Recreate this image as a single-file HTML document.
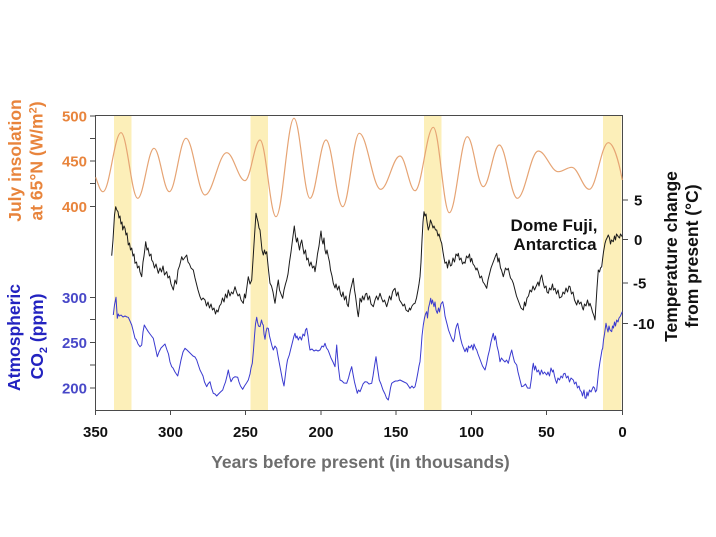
<!DOCTYPE html>
<html>
<head>
<meta charset="utf-8">
<style>
  html, body { margin: 0; padding: 0; background: #ffffff; }
  svg { display: block; }
  text { font-family: "Liberation Sans", Arial, sans-serif; font-weight: bold; }
</style>
</head>
<body>
<svg width="716" height="537" viewBox="0 0 716 537" xmlns="http://www.w3.org/2000/svg">
  <rect x="0" y="0" width="716" height="537" fill="#ffffff"/>

  <!-- yellow interglacial bands -->
  <g fill="#fcefb9">
    <rect x="114" y="115.5" width="17.5" height="295"/>
    <rect x="250.5" y="115.5" width="17.5" height="295"/>
    <rect x="424" y="115.5" width="17.5" height="295"/>
    <rect x="603" y="115.5" width="18.5" height="295"/>
  </g>

  <!-- frame -->
  <g stroke="#4a4a4a" stroke-width="1" fill="none">
    <rect x="95.5" y="115.5" width="527" height="295"/>
    <!-- left ticks -->
    <line x1="90" y1="116" x2="95.5" y2="116"/>
    <line x1="90" y1="138.5" x2="95.5" y2="138.5"/>
    <line x1="90" y1="161" x2="95.5" y2="161"/>
    <line x1="90" y1="183.5" x2="95.5" y2="183.5"/>
    <line x1="90" y1="206.5" x2="95.5" y2="206.5"/>
    <line x1="90" y1="297.5" x2="95.5" y2="297.5"/>
    <line x1="90" y1="319.5" x2="95.5" y2="319.5"/>
    <line x1="90" y1="342.5" x2="95.5" y2="342.5"/>
    <line x1="90" y1="365" x2="95.5" y2="365"/>
    <line x1="90" y1="388" x2="95.5" y2="388"/>
    <!-- right ticks -->
    <line x1="622.5" y1="200" x2="628" y2="200"/>
    <line x1="622.5" y1="239.5" x2="628" y2="239.5"/>
    <line x1="622.5" y1="283" x2="628" y2="283"/>
    <line x1="622.5" y1="323.5" x2="628" y2="323.5"/>
    <!-- bottom ticks -->
    <line x1="95.5" y1="410.5" x2="95.5" y2="415"/>
    <line x1="170.5" y1="410.5" x2="170.5" y2="415"/>
    <line x1="245.5" y1="410.5" x2="245.5" y2="415"/>
    <line x1="321" y1="410.5" x2="321" y2="415"/>
    <line x1="396" y1="410.5" x2="396" y2="415"/>
    <line x1="471.5" y1="410.5" x2="471.5" y2="415"/>
    <line x1="546.5" y1="410.5" x2="546.5" y2="415"/>
    <line x1="622.5" y1="410.5" x2="622.5" y2="415"/>
  </g>

  <!-- insolation curve -->
  <path fill="none" stroke="#e6a474" stroke-width="1.2" d="M95.7,177.3 C98.5,185 100.3,191.7 103,191.7
    C109.55,191.7 114.45,132.7 121,132.7
    C127.08,132.7 131.62,198.3 137.7,198.3
    C143.63,198.3 148.07,148.3 154,148.3
    C159.57,148.3 163.73,191.7 169.3,191.7
    C175.38,191.7 179.92,138.3 186,138.3
    C192.92,138.3 198.08,195 205,195
    C212.9,195 218.8,152.7 226.7,152.7
    C233.36,152.7 238.34,180.7 245,180.7
    C250.46,180.7 254.54,140 260,140
    C265.82,140 270.18,216.7 276,216.7
    C282.55,216.7 287.45,118.3 294,118.3
    C299.82,118.3 304.18,198.3 310,198.3
    C315.82,198.3 320.18,140 326,140
    C332.08,140 336.62,206.7 342.7,206.7
    C348.74,206.7 353.26,133.3 359.3,133.3
    C367.09,133.3 372.91,189.3 380.7,189.3
    C387.73,189.3 392.97,156 400,156
    C405.46,156 409.54,190.7 415,190.7
    C421.66,190.7 426.64,127.3 433.3,127.3
    C439.12,127.3 443.48,212.7 449.3,212.7
    C455.85,212.7 460.75,136.7 467.3,136.7
    C473.12,136.7 477.48,186.7 483.3,186.7
    C489.12,186.7 493.48,145 499.3,145
    C505.85,145 510.75,198.3 517.3,198.3
    C524.94,198.3 530.66,151 538.3,151
    C545.58,151 551.02,171.7 558.3,171.7
    C563.18,171.7 566.82,167.3 571.7,167.3
    C578.1,167.3 582.9,189.3 589.3,189.3
    C596.22,189.3 601.38,142.7 608.3,142.7
    C613.3,142.7 618.5,160 622.3,180"/>

  <!-- temperature curve -->
  <polyline fill="none" stroke="#1a1a1a" stroke-width="1" stroke-linejoin="round" points="111.7,255.7 113,240 114.5,215 115.7,206.7 116.8,210 118,211.7 119,218 120,216 121,224 122,222 122.7,230 124,226 125,228.3 126,235 127,233 128.3,245 129.5,243 130.5,250 131.7,248 133,256 134,254 135,263.3 136.5,262 137.5,268 139,266 140,272 141.7,276.7 143,262 144,256 145,248 145.7,241.7 147,250 148,248 149.5,256 151,254 151.7,260 153,262 154.5,268 156,264 158.3,273.3 160,268 161.5,272 163,266 164.5,275 166.7,271.7 168,278 169.5,276 171,284 173.3,290 175,280 176.5,284 178,270 179.5,266 180.5,262 181.7,256.7 183,260 184.5,258 186.7,255 188,262 189.5,264 191,268 193.3,270 195,278 196.5,284 198,290 200,296.7 201.5,300 203,298 205,300 206.5,306 208,302 209.5,308 211,304 212.5,310 214,308 215.5,314 216.7,310 218,312 219.5,306 221,304 222.5,298 224,302 225.5,294 227,298 228.3,290 230,296 231.5,292 233,294 235,286.7 236.5,292 238,296 239.5,294 241,300 243.3,303.3 244.5,294 245.5,298 246.5,290 248.3,276.7 250,284 251.7,280 253,260 254.5,236 256,213.3 257,218 258,222 259,228 260,230 261,240 262,250 263.3,255 264.5,250 265.5,254 266.7,251.7 267.5,260 268.5,270 270,283.3 271.5,286 273,292 274,298 275,303.3 276,296 277,288 278.3,280 279.5,290 281,294 282.7,298.3 284,290 285.5,284 286.7,280 288,274 289.5,262 291,252 292.5,240 294.3,226 295.5,236 296.5,242 297.5,238 298.3,243.3 299.5,250 300.5,244 301.7,240 303,248 304,254 305.5,250 306.7,260 308,258 309.5,266 311,262 312.5,268 314,266 315,271.7 316.5,262 317.5,254 319,246 320,238 321,231 322,240 323,244 324,238 325,250 326,254 327,250 328.3,256.7 329.5,262 330.5,270 332,276 333.3,283.3 335,288 336,284 337.5,290 339,286 340.5,294 341.7,296.7 343,292 344.5,300 346,296 347,304 348.3,306.7 349.5,296 350.5,290 351.5,286 353.3,278.3 354.5,290 355.5,296 356.5,304 357.5,312 358.3,316.7 359.3,308 360,298.3 361.5,302 362.5,296 364,300 365.5,294 366.7,293.3 368,300 369.5,296 371,304 373.3,306.7 375,300 376.5,296 378,300 380,293.3 381.5,298 383,302 384.5,300 386.7,306.7 388,302 389.5,296 391,300 392.5,292 393.5,290 395,288.3 396.5,296 398,292 399.5,300 401.7,303.3 403,306 404.5,304 406,310 408.3,311.7 409.5,308 410.5,310 412,306 413.5,304 415,303.3 416.5,298 418,290 419,284 420,276.7 421,262 422,240 423,222 424,211.7 425,216 426,214 427,222 428.3,230 429.5,226 430.5,220 431.7,223.3 433,228 434,226 435.5,230 436.7,230 438,236 439,234 440.5,240 441.7,243.3 443,252 444,258 445,263.3 446.5,262 447.5,268 449,260 450.5,266 451.7,265 453,258 454.5,262 456,254 457.5,256 458.3,253.3 459.5,260 461,258 462.5,264 464,262 465,263.3 466.5,256 468,258 469.5,254 470.5,262 471.7,258.3 473,264 474.5,266 476,270 477,268 478.3,271.7 480,278 481.5,276 483,282 484.5,284 486.7,288.3 488,280 489.5,274 491,268 492.5,264 494,260 495.5,256 496.7,253.3 498,262 499,258 500.5,268 501.5,270 503.3,276.7 504.5,272 505.5,268 507,270 508.3,268.3 509.5,274 510.5,278 512,280 513.3,283.3 515,290 516.5,296 518,300 519.5,304 521,308 523.3,310 524.5,302 525.5,306 527,298 528.5,296 530,290 531.5,292 533,286 534.5,290 536.7,285 538,282 539,286 540.5,278 541.7,275 543,282 544.5,288 546,286 547,292 548.3,293.3 549.5,288 551,290 552.5,284 553.5,290 555,288.3 556.5,294 558,290 559.5,298 561.7,296.7 563,292 564.5,294 566,288 567.5,292 569,286 570,286.7 571.5,294 573,292 574.5,300 576.7,305 578,300 579.5,304 581,302 582.5,308 583.3,310 584.5,304 586,306 587.5,300 589,306 590,303.3 591.5,308 592.5,312 594,316 595,320 596,304 597,288 598.3,270 599.5,272 600.5,268 601.7,266.7 602.5,260 603.5,252 605,243.3 606,240 607,238 608.3,235 609.5,238 610.5,244 611.5,240 613.3,241.7 614.5,236 615.5,240 616.5,234 618.3,236.7 619.5,238 620.5,234 622.3,236.7"/>

  <!-- CO2 curve -->
  <polyline fill="none" stroke="#3a3ad0" stroke-width="1" stroke-linejoin="round" points="113.3,315 114.5,305 116,297.3 117.3,318.3 118.3,314 119.3,316 121,315 123,317 125,316 127,317 128.3,317.3 130,321 131.7,325 133,330 135,338.3 136.5,340 138,344 140,346.7 141.7,345 143,332 144.3,325 146,328 148.3,331.7 150,334 151.5,336 153.3,338.3 155,346 157.3,356.7 159,352 161,348 163,346 165,344 167,350 168.5,354 170,362 171.7,366.7 173,368 175,372 177.7,376 179,370 181,360 183,352 185,348.3 187,350 189,352 191,354 193,356 195,357 196.7,360 198,364 200,370 201.7,373.3 203,376 204.5,382 206.7,386.7 208,384 210,381.7 211.5,388 213.3,393.3 215,394 216.7,396 218.5,394 220.5,392 222.7,390 224,386 225.5,382 227,376 228.3,370 229.5,376 231,381.7 233,378 235,376.7 237.7,377.3 239,382 240.5,386 242.7,389.3 244.5,386 246.5,383 248.3,380 250,374 251,368 252.3,363.3 253.5,350 254.5,336 255.5,324 256.7,317.3 257.5,322 258.5,326 260,326.7 261.5,320 262.5,324 263.3,325 264,334 265,339.3 266,332 267,328 268.3,328.3 269.5,336 270.5,340 272,346 273.3,350 275,346 276.7,348.3 278,356 279.5,364 281,372 282.5,380 284,386 285.5,374 286.5,366 287.5,360 289.3,355 290.5,350 291.5,346 293,340 294,336 295,333.3 296,338 297,336 298.3,340 299.2,338 300,336.7 301.5,340 303,334 304.5,336 305.5,330 306.7,328.3 308,336 309,344 310,350 312,349 314,351 316,350 318,351 320,350 322,346 323.5,347 325,343.3 326.5,348 328,350 329.3,353.3 331,358 333,362 335,366.7 335.8,356 336.7,345 337.5,356 338.5,368 340,380 342,381 344,383 346.7,383.3 348.5,378 350,372 351.7,366.7 353,374 354.5,382 356,388 357.3,393.3 358.5,390 360,391.7 361.5,388 363,384 365,381.7 367,382 369,384 371.7,383.3 373,376 374.5,366 376,356.7 377.5,368 379.3,380 381,384 383,390 385,394 386.5,398 388.3,400 389.5,394 390.5,388 391.7,383.3 393.5,382 395.5,381 397.5,381 400,380 402,381 404,382 406.7,383.3 408.5,386 410,388.3 412,386 413.5,388 415,386.7 416.5,380 418,372 419,366 420,361.7 421,350 422,336 423.3,325 424.5,318 425.5,314 426.7,311.7 427.5,318 428.5,308 429.5,304 430.7,298.3 431.5,304 432.5,300 434,306.7 435,302 436,310 437.3,313.3 438.5,308 439.5,312 441,304 442.7,301.7 444,308 445,316 446,320 447.3,325 448.5,330 450,334 451.5,338 453.3,341.7 454.5,338 455.5,330 456.5,326 457.7,323.3 459,330 460.5,338 462,344 463.5,348 465,351.7 466.5,348 467.5,352 468.5,346 470,348 471.7,345 473,350 474,344 475.5,348 476.7,350 478,354 479.5,358 481,362 482.5,366 485,370 486.5,364 488,356 489.5,350 491,342 492.5,336 493.3,333.3 494.5,340 495.5,336 497,346 498.5,352 500,361.7 501.5,358 503,360 505,362 506.5,360 508.3,363.3 509.5,358 510.5,354 511.7,350 513,356 514.5,362 516.7,365 518,372 519.5,378 521,384 521.7,386.7 523.5,386 525.5,384 527.5,388 530,388.3 531.5,378 532.5,368 533.3,363.3 534.5,370 535.5,366 537,372 538.5,370 540,375 541.5,370 543,374 544.5,372 546.7,375 548,372 549.5,376 551,368 552.5,372 553.3,370 554.5,376 555.5,380 556.7,383.3 558,378 559.5,380 561,376 562.5,378 563.5,374 565,373.3 566.5,378 568,376 569.5,382 571,378 573.3,380 574.5,384 576,382 577.5,388 579,386 580,390 581.5,392 582.5,396 584,390 585,398 586,398.3 587,392 588,396 589.5,390 591,392 593.3,386.7 594.5,388 595.5,392 596.7,390 597.5,382 598.5,372 600,361.7 601,356 602,350 602.7,348.3 603.5,340 604.5,334 606,323.3 607,328 608,332 609,326 610,330 611.7,331.7 612.5,326 613.5,328 614.5,322 615.5,326 616.7,320 618,322 619,318 620.5,316 622.3,311.7"/>

  <!-- left tick labels: insolation -->
  <g fill="#e8843c" font-size="15" text-anchor="end">
    <text x="87" y="121.5">500</text>
    <text x="87" y="166.5">450</text>
    <text x="87" y="212">400</text>
  </g>
  <!-- left tick labels: CO2 -->
  <g fill="#4848c8" font-size="15" text-anchor="end">
    <text x="87" y="303">300</text>
    <text x="87" y="348">250</text>
    <text x="87" y="393.5">200</text>
  </g>
  <!-- right tick labels -->
  <g fill="#111111" font-size="15">
    <text x="634" y="205.5">5</text>
    <text x="634" y="245">0</text>
    <text x="633" y="288.5">-5</text>
    <text x="633" y="329">-10</text>
  </g>
  <!-- bottom tick labels -->
  <g fill="#111111" font-size="15" text-anchor="middle">
    <text x="95.5" y="437">350</text>
    <text x="170.5" y="437">300</text>
    <text x="245.5" y="437">250</text>
    <text x="321" y="437">200</text>
    <text x="396" y="437">150</text>
    <text x="471.5" y="437">100</text>
    <text x="546.5" y="437">50</text>
    <text x="622.5" y="437">0</text>
  </g>

  <!-- x axis title -->
  <text x="360.5" y="468" fill="#6e6e6e" font-size="17.5" text-anchor="middle">Years before present (in thousands)</text>

  <!-- Dome Fuji label -->
  <g fill="#111111" font-size="17" text-anchor="middle">
    <text x="554" y="231">Dome Fuji,</text>
    <text x="555" y="250">Antarctica</text>
  </g>

  <!-- left titles (rotated) -->
  <g fill="#e8843c" font-size="17.5" text-anchor="middle" transform="rotate(-90)">
    <text x="-160.5" y="21">July insolation</text>
    <text x="-161" y="42.5">at 65°N (W/m<tspan dy="-6" font-size="11">2</tspan><tspan dy="6">)</tspan></text>
  </g>
  <g font-size="17.5" text-anchor="middle" transform="rotate(-90)">
    <text x="-337.5" y="20" fill="#2323c0">Atmospheric</text>
    <text x="-336.5" y="43" fill="#2323c0">CO<tspan dy="4" font-size="11">2</tspan><tspan dy="-4"> (ppm)</tspan></text>
  </g>

  <!-- right title (rotated) -->
  <g fill="#111111" font-size="17.5" text-anchor="middle" transform="rotate(-90)">
    <text x="-256.5" y="677">Temperature change</text>
    <text x="-256" y="698">from present (°C)</text>
  </g>
</svg>
</body>
</html>
